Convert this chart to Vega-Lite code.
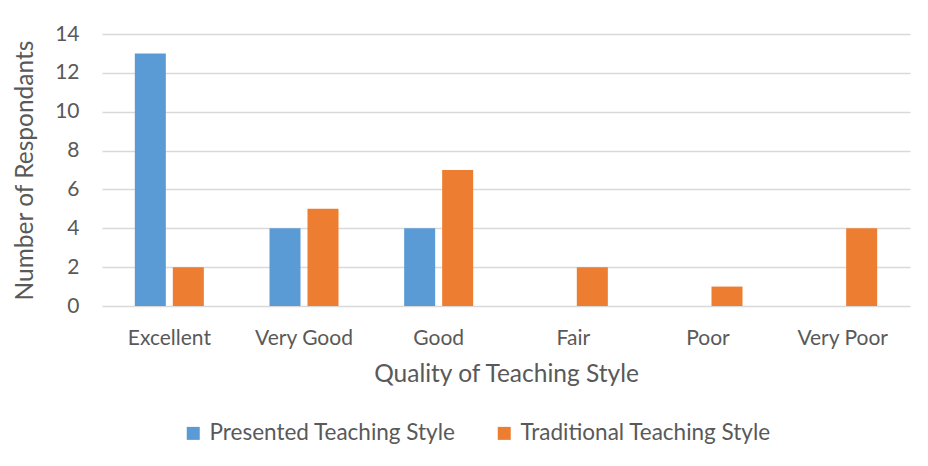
{
  "$schema": "https://vega.github.io/schema/vega-lite/v6.json",
  "autosize": {"type": "none"},
  "padding": {"left": 102, "top": 34, "right": 18, "bottom": 160},
  "width": 808,
  "height": 272,
  "background": "white",
  "config": {
    "font": "Lato",
    "view": {"stroke": null},
    "axis": {"labelColor": "#595959", "titleColor": "#595959", "labelFont": "Lato", "titleFont": "Lato", "titleFontWeight": "normal"},
    "legend": {"labelColor": "#595959", "labelFont": "Lato"}
  },
  "data": {
    "values": [
      {"quality": "Excellent", "style": "Presented Teaching Style", "count": 13},
      {"quality": "Excellent", "style": "Traditional Teaching Style", "count": 2},
      {"quality": "Very Good", "style": "Presented Teaching Style", "count": 4},
      {"quality": "Very Good", "style": "Traditional Teaching Style", "count": 5},
      {"quality": "Good", "style": "Presented Teaching Style", "count": 4},
      {"quality": "Good", "style": "Traditional Teaching Style", "count": 7},
      {"quality": "Fair", "style": "Presented Teaching Style", "count": 0},
      {"quality": "Fair", "style": "Traditional Teaching Style", "count": 2},
      {"quality": "Poor", "style": "Presented Teaching Style", "count": 0},
      {"quality": "Poor", "style": "Traditional Teaching Style", "count": 1},
      {"quality": "Very Poor", "style": "Presented Teaching Style", "count": 0},
      {"quality": "Very Poor", "style": "Traditional Teaching Style", "count": 4}
    ]
  },
  "mark": {"type": "bar"},
  "encoding": {
    "x": {
      "field": "quality",
      "type": "nominal",
      "sort": ["Excellent", "Very Good", "Good", "Fair", "Poor", "Very Poor"],
      "scale": {"paddingInner": 0, "paddingOuter": 0},
      "axis": {
        "title": "Quality of Teaching Style",
        "labelAngle": 0,
        "labelFontSize": 21,
        "titleFontSize": 24.5,
        "ticks": false,
        "domain": false,
        "labelPadding": 21,
        "titlePadding": 14
      }
    },
    "xOffset": {
      "field": "style",
      "type": "nominal",
      "scale": {"paddingInner": 0.184, "paddingOuter": 0.864}
    },
    "y": {
      "field": "count",
      "type": "quantitative",
      "scale": {"domain": [0, 14]},
      "axis": {
        "title": "Number of Respondants",
        "values": [0, 2, 4, 6, 8, 10, 12, 14],
        "labelFontSize": 21,
        "titleFontSize": 24.5,
        "ticks": false,
        "domain": false,
        "gridColor": "#D9D9D9",
        "gridWidth": 1.3,
        "labelPadding": 23,
        "titlePadding": 17
      }
    },
    "color": {
      "field": "style",
      "type": "nominal",
      "scale": {"domain": ["Presented Teaching Style", "Traditional Teaching Style"], "range": ["#5B9BD5", "#ED7D31"]},
      "legend": {
        "title": null,
        "orient": "none",
        "direction": "horizontal",
        "legendX": 80,
        "legendY": 388,
        "symbolType": "square",
        "symbolSize": 169,
        "symbolStrokeWidth": 0,
        "labelFontSize": 22.5,
        "labelLimit": 400,
        "columnPadding": 37,
        "labelOffset": 5
      }
    }
  }
}
